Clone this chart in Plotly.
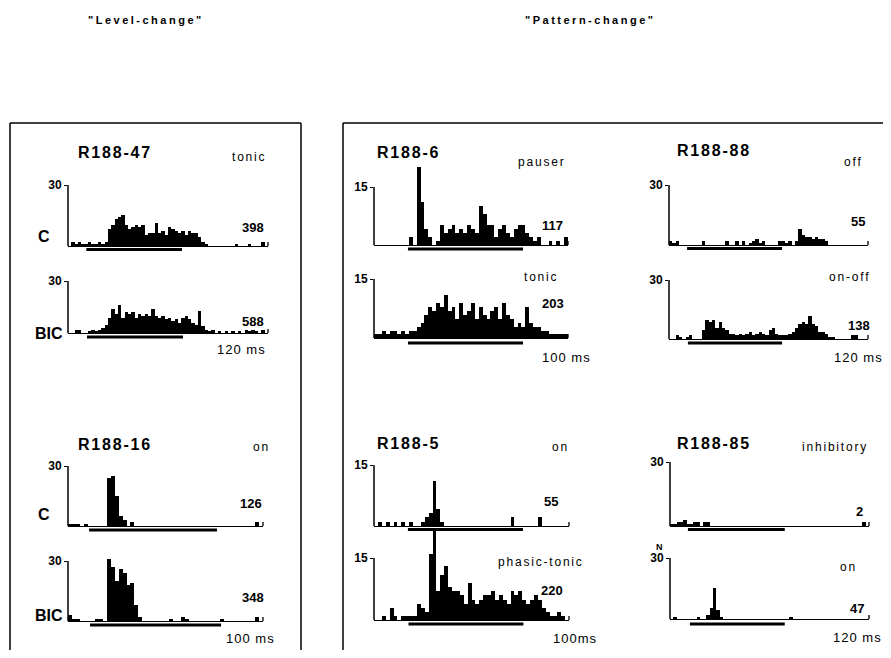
import numpy as np
import plotly.graph_objects as go

# The page body has an 8 px default margin, so the figure is made smaller
# (no scrolling) and every reference pixel position is shifted by that margin.
PAGE_W, PAGE_H = 891, 658
OFF = 8
W, H = PAGE_W - 2 * OFF, PAGE_H - 2 * OFF
BIN_MS = 2.0
FONT = "Liberation Sans"

# ---------------- data (spike counts per 2 ms bin) ----------------
r47_c = [0, 2, 1, 2, 1, 1, 2, 1, 1, 2, 1, 2, 8, 10, 13, 14, 15, 10, 8, 9,
         10, 9, 10, 5, 6, 6, 11, 6, 7, 5, 9, 8, 7, 6, 7, 5, 7, 6, 6, 4,
         2, 1, 0, 0, 0, 0, 0, 0, 0, 0, 1, 0, 0, 0, 1, 0, 0, 0, 2, 0]
r47_bic = [0, 0, 2, 2, 0, 0, 1, 2, 1, 2, 3, 5, 9, 14, 11, 16, 9, 12, 11, 12,
           9, 11, 10, 11, 10, 14, 10, 9, 10, 8, 9, 7, 8, 6, 9, 10, 8, 6, 5, 13,
           4, 2, 1, 2, 0, 1, 0, 1, 0, 1, 0, 1, 0, 2, 1, 2, 1, 0, 2, 0]
r16_c = [1, 1, 1, 0, 1, 0, 0, 0, 0, 0, 24, 25, 15, 5, 3, 0, 2, 0, 0, 0,
         0, 0, 0, 0, 0, 0, 0, 0, 0, 0, 0, 0, 0, 0, 0, 0, 0, 0, 0, 0,
         0, 0, 0, 0, 0, 0, 0, 0, 2, 0]
r16_bic = [3, 1, 1, 0, 0, 0, 0, 1, 1, 0, 31, 27, 20, 26, 24, 18, 19, 8, 2, 0,
           0, 0, 0, 0, 0, 0, 1, 0, 0, 2, 1, 0, 0, 0, 0, 0, 0, 0, 0, 1,
           0, 0, 0, 0, 0, 0, 0, 0, 2, 0]
r6_pauser = [0, 0, 0, 0, 0, 0, 0, 0, 0, 2, 0, 20, 11, 4, 2, 0, 1, 5, 3, 4,
             5, 3, 4, 3, 5, 4, 3, 10, 8, 5, 5, 2, 4, 5, 3, 2, 4, 5, 5, 3,
             2, 1, 2, 0, 0, 1, 0, 1, 0, 2]
r6_tonic = [1, 1, 2, 1, 2, 2, 1, 2, 1, 2, 2, 3, 4, 6, 8, 7, 9, 8, 11, 7,
            8, 5, 9, 6, 7, 9, 5, 8, 6, 5, 7, 8, 5, 9, 6, 5, 3, 4, 3, 8,
            4, 3, 3, 2, 2, 1, 1, 1, 1, 1]
r5_on = [0, 1, 0, 1, 0, 1, 0, 1, 0, 1, 0, 0, 1, 2, 3, 11, 4, 1, 0, 0,
         0, 0, 0, 0, 0, 0, 0, 0, 0, 0, 0, 0, 0, 0, 0, 2, 0, 0, 0, 0,
         0, 0, 2, 0, 0, 0, 0, 0, 0, 0]
r5_phasic = [0, 0, 1, 0, 3, 1, 0, 1, 1, 1, 1, 4, 3, 2, 16, 22, 7, 11, 13, 8,
             7, 7, 6, 4, 9, 5, 4, 5, 6, 6, 7, 5, 6, 5, 4, 7, 6, 7, 5, 4,
             5, 6, 5, 3, 2, 1, 1, 2, 1, 0]
r88_off = [2, 1, 2, 0, 0, 0, 0, 0, 0, 0, 2, 0, 0, 0, 0, 0, 0, 2, 0, 0,
           2, 0, 2, 0, 1, 2, 3, 1, 2, 0, 0, 0, 0, 2, 2, 1, 2, 0, 2, 8,
           5, 4, 4, 3, 4, 3, 3, 2, 0, 0, 0, 0, 0, 0, 0, 0, 0, 0, 0, 0]
r88_onoff = [0, 0, 2, 1, 0, 1, 2, 0, 0, 0, 5, 10, 9, 10, 6, 9, 6, 5, 3, 3,
             2, 3, 2, 3, 4, 2, 3, 4, 3, 2, 5, 6, 3, 2, 2, 2, 3, 4, 6, 8,
             9, 8, 12, 8, 7, 4, 4, 3, 1, 1, 0, 0, 0, 0, 0, 2, 2, 0, 0, 0]
r85_inhib = [1, 1, 2, 2, 3, 1, 1, 2, 2, 0, 2, 2, 0, 0, 0, 0, 0, 0, 0, 0,
             0, 0, 0, 0, 0, 0, 0, 0, 0, 0, 0, 0, 0, 0, 0, 0, 0, 0, 0, 0,
             0, 0, 0, 0, 0, 0, 0, 0, 0, 0, 0, 0, 0, 0, 0, 0, 0, 0, 2, 0]
r85_on = [0, 1, 0, 0, 0, 0, 0, 0, 1, 0, 0, 2, 5, 15, 4, 1, 0, 0, 0, 0,
          0, 0, 0, 0, 0, 0, 0, 0, 0, 0, 0, 0, 0, 0, 0, 0, 1, 0, 0, 0,
          0, 0, 0, 0, 0, 0, 0, 0, 0, 0, 0, 0, 0, 0, 0, 0, 0, 0, 0, 0]

panel_counts = [r47_c, r47_bic, r16_c, r16_bic, r6_pauser, r6_tonic,
                r5_on, r5_phasic, r88_off, r88_onoff, r85_inhib, r85_on]
sweep_ms = [120, 120, 100, 100, 100, 100, 100, 100, 120, 120, 120, 120]
y_top = [30, 30, 30, 30, 15, 15, 15, 15, 30, 30, 30, 30]
stim_on = [11, 11.4, 10.8, 11.3, 17.5, 17.5, 17.4, 17.7, 10.9, 11.4, 10.8, 12]
stim_off = [68.4, 69, 76.4, 78.5, 76.8, 76.8, 76.4, 76.6, 68.2, 68.2, 69.2, 69.2]
count_labels = ["398", "588", "126", "348", "117", "203", "55", "220", "55", "138", "2", "47"]
type_labels = ["tonic", None, "on", None, "pauser", "tonic", "on", "phasic-tonic",
               "off", "on-off", "inhibitory", "on"]
cond_labels = ["C", "BIC", "C", "BIC", None, None, None, None, None, None, None, None]
time_labels = [None, "120 ms", None, "100 ms", None, "100 ms", None, "100ms",
               None, "120 ms", None, "120 ms"]
unit_names = ["R188-47", "R188-16", "R188-6", "R188-5", "R188-88", "R188-85"]
group_titles = ['"Level-change"', '"Pattern-change"']

# ---------------- layout geometry (reference pixels) ----------------
# x_axis_left, x_axis_right, baseline, top-of-scale, stimulus-bar y
GEOM = [(68, 268, 246, 185, 249.5), (68, 268, 333, 281, 337),
        (68, 263, 526, 466, 530), (68, 263, 621, 561, 625),
        (374, 568, 245, 187, 249), (374, 568, 338, 279, 343),
        (374, 569, 526, 465, 529.5), (374, 569, 620, 558, 624),
        (669, 868, 245, 185, 248.5), (669, 868, 339, 280, 343),
        (670, 869, 526, 462, 529.5), (670, 869, 619, 558, 624)]
COUNT_POS = [(253, 227), (253, 321), (251, 503), (253, 597), (552, 226), (553, 303),
             (551, 501), (552, 590), (858, 222), (859, 326), (859, 511), (857, 608)]
TYPE_POS = [(249, 157), None, (261, 447), None, (542, 162), (541, 277), (560, 447),
            (541, 562), (853, 162), (849, 277), (835, 447), (848, 567)]
COND_POS = [(44, 236), (49, 334), (44, 514), (49, 615)]
TIME_POS = [None, (242, 350), None, (251, 638), None, (566, 357), None, (575, 638),
            None, (858, 357), None, (857, 637)]
NAME_POS = [(76, 153), (76, 444), (375, 153), (375, 443), (675, 150), (675, 443)]


def px(x):
    return (x - OFF) / W


def py(y):
    return 1 - (y - OFF) / H


def spaced(text, sp):
    return f'<span style="letter-spacing:{sp}px">{text}</span>'


fig = go.Figure()
layout = dict(width=W, height=H, margin=dict(l=0, r=0, t=0, b=0), autosize=False,
              paper_bgcolor="white", plot_bgcolor="rgba(0,0,0,0)",
              showlegend=False, bargap=0, font=dict(family=FONT, color="black"))
shapes = []
annotations = []

for i, counts in enumerate(panel_counts):
    n = i + 1
    xa, ya = f"x{n}", f"y{n}"
    x0, x1, base, top, sy = GEOM[i]
    T, yt = sweep_ms[i], y_top[i]
    ppu = (base - top) / yt
    ylo = -2.0 / ppu
    yhi = yt * 1.6
    dom_top = base - yhi * ppu
    dom_bot = base + 2.0
    centers = (np.arange(len(counts)) + 0.5) * BIN_MS
    fig.add_trace(go.Bar(x=centers, y=counts, width=BIN_MS, marker=dict(color="black", line=dict(width=0)),
                         xaxis=xa, yaxis=ya, hoverinfo="skip"))
    layout[f"xaxis{n}"] = dict(domain=[px(x0), px(x1)], range=[0, T], anchor=ya,
                               showline=False, showgrid=False, zeroline=False,
                               showticklabels=False, ticks="", fixedrange=True)
    layout[f"yaxis{n}"] = dict(domain=[py(dom_bot), py(dom_top)], range=[ylo, yhi], anchor=xa,
                               showline=False, showgrid=False, zeroline=True,
                               zerolinecolor="black", zerolinewidth=1.4,
                               tickvals=[yt], ticktext=[str(yt)], ticks="outside",
                               ticklen=3, tickwidth=1.3, tickcolor="black",
                               tickfont=dict(family=FONT, size=12, color="black", weight="bold"),
                               fixedrange=True)
    # y-axis line from 0 to top of scale
    shapes.append(dict(type="line", xref="paper", yref=ya, x0=px(x0), x1=px(x0), y0=0, y1=yt,
                       line=dict(color="black", width=1.5)))
    # end tick of the time axis
    shapes.append(dict(type="line", xref="paper", yref=ya, x0=px(x1), x1=px(x1), y0=0, y1=4 / ppu,
                       line=dict(color="black", width=1.3)))
    # stimulus bar
    shapes.append(dict(type="line", xref=xa, yref="paper", x0=stim_on[i], x1=stim_off[i],
                       y0=py(sy), y1=py(sy), line=dict(color="black", width=3)))

    cx, cy = COUNT_POS[i]
    annotations.append(dict(text=f"<b>{count_labels[i]}</b>", x=px(cx), y=py(cy), xref="paper", yref="paper",
                            showarrow=False, xanchor="center", yanchor="middle",
                            font=dict(size=13, family=FONT)))
    if type_labels[i]:
        tx, ty = TYPE_POS[i]
        annotations.append(dict(text=spaced(type_labels[i], 1.8), x=px(tx), y=py(ty), xref="paper",
                                yref="paper", showarrow=False, xanchor="center", yanchor="middle",
                                font=dict(size=12, family=FONT, color="black")))
    if cond_labels[i]:
        cx2, cy2 = COND_POS[i]
        annotations.append(dict(text=f"<b>{cond_labels[i]}</b>", x=px(cx2), y=py(cy2), xref="paper",
                                yref="paper", showarrow=False, xanchor="center", yanchor="middle",
                                font=dict(size=16, family=FONT)))
    if time_labels[i]:
        tx, ty = TIME_POS[i]
        annotations.append(dict(text=spaced(time_labels[i], 1.0), x=px(tx), y=py(ty), xref="paper",
                                yref="paper", showarrow=False, xanchor="center", yanchor="middle",
                                font=dict(size=13, family=FONT)))

for name, (nx, ny) in zip(unit_names, NAME_POS):
    annotations.append(dict(text=f"<b>{spaced(name, 1.8)}</b>", x=px(nx), y=py(ny), xref="paper", yref="paper",
                            showarrow=False, xanchor="left", yanchor="middle",
                            font=dict(size=16, family=FONT)))

annotations.append(dict(text="<b>N</b>", x=px(659), y=py(547), xref="paper", yref="paper",
                        showarrow=False, xanchor="center", yanchor="middle", font=dict(size=9, family=FONT)))
for t, (gx, gy) in zip(group_titles, [(146, 20), (590, 20)]):
    annotations.append(dict(text=f"<b>{spaced(t, 2.5)}</b>", x=px(gx), y=py(gy), xref="paper", yref="paper",
                            showarrow=False, xanchor="center", yanchor="middle",
                            font=dict(size=11, family=FONT)))

# panel frames
frame = dict(color="black", width=1.5)
for (ax0, ay0, ax1, ay1) in [(10, 123, 301, 123), (10, 123, 10, 662), (301, 123, 301, 662),
                             (343, 123, 895, 123), (343, 123, 343, 662)]:
    shapes.append(dict(type="line", xref="paper", yref="paper", x0=px(ax0), y0=py(ay0),
                       x1=px(ax1), y1=py(ay1), line=frame))

layout["shapes"] = shapes
layout["annotations"] = annotations
fig.update_layout(**layout)
fig.write_html("out.html")
